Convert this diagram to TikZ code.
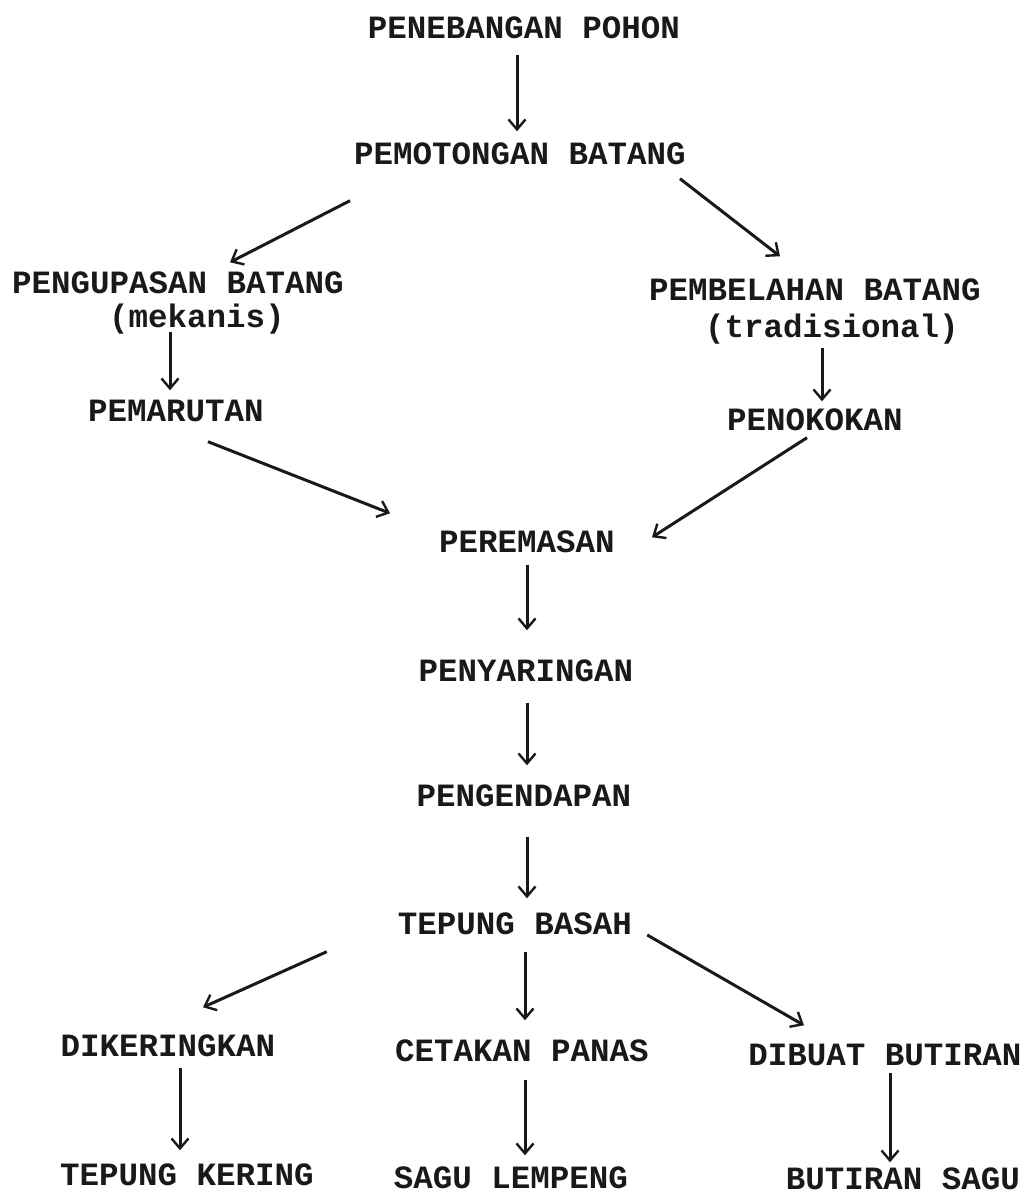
\documentclass[tikz,border=0pt]{standalone}
\usepackage{fontspec}
\usetikzlibrary{arrows.meta}
\newfontfamily\typewriter{Liberation Mono}
\definecolor{inkdark}{RGB}{25,25,25}

\begin{document}
\begin{tikzpicture}[x=1pt,y=1pt]
    % Style definitions
    \tikzset{
      stage/.style={inner sep=0pt, text height=19pt, text depth=0pt,
        font=\typewriter\bfseries\fontsize{32.5}{36}\selectfont, text=inkdark},
      arr/.style={draw=inkdark, line width=3pt,
        -{Straight Barb[length=10pt,width=17pt,line width=2.4pt]}},
    }
    % page frame (keeps the margins of the scan)
    \path[fill=white] (0,0) rectangle (1027,1199);

    % ------------------------------------------------------------------
    % Stages, from the felled tree down to the three products
    % ------------------------------------------------------------------
    \node[stage] (tebang)    at (524,1170) {PENEBANGAN POHON};
    \node[stage] (potong)    at (520,1044) {PEMOTONGAN BATANG};

    % left branch: mechanical
    \node[stage] (kupas)     at (178,915)  {PENGUPASAN BATANG};
    \node[stage] (kupasket)  at (197,881)  {(mekanis)};
    \node[stage] (marut)     at (176,787)  {PEMARUTAN};

    % right branch: traditional
    \node[stage] (belah)     at (815,908)  {PEMBELAHAN BATANG};
    \node[stage] (belahket)  at (832,871)  {(tradisional)};
    \node[stage] (kokok)     at (815,778)  {PENOKOKAN};

    % common trunk
    \node[stage] (remas)     at (527,656)  {PEREMASAN};
    \node[stage] (saring)    at (526,527)  {PENYARINGAN};
    \node[stage] (endap)     at (524,402)  {PENGENDAPAN};
    \node[stage] (basah)     at (515,274)  {TEPUNG BASAH};

    % three outlets
    \node[stage] (kering)    at (168,152)  {DIKERINGKAN};
    \node[stage] (cetak)     at (522,147)  {CETAKAN PANAS};
    \node[stage] (butir)     at (885,143)  {DIBUAT BUTIRAN};
    \node[stage] (tpkering)  at (187,23)   {TEPUNG KERING};
    \node[stage] (lempeng)   at (511,20)   {SAGU LEMPENG};
    \node[stage] (butirsagu) at (903,19)   {BUTIRAN SAGU};

    % ------------------------------------------------------------------
    % Arrows (hand drawn in the original, so each end is nudged)
    % ------------------------------------------------------------------
    \draw[arr] ([shift={(-7,-16)}]tebang.south) -- ([shift={(-3,14)}]potong.north);
    \draw[arr] ([shift={(-4,-36)}]potong.south west) -- ([shift={(52,12)}]kupas.north);
    \draw[arr] ([shift={(-6,-14)}]potong.south east) -- ([shift={(-35,25)}]belah.north);

    \draw[arr] ([shift={(-27,-4)}]kupasket.south) -- ([shift={(-6,12)}]marut.north);
    \draw[arr] ([shift={(-10,-10)}]belahket.south) -- ([shift={(7,10)}]kokok.north);

    \draw[arr] ([shift={(32,-20)}]marut.south) -- ([shift={(-49,20)}]remas.north west);
    \draw[arr] ([shift={(-8,-7)}]kokok.south) -- ([shift={(37,-4)}]remas.north east);

    \draw[arr] ([shift={(0,-12)}]remas.south) -- ([shift={(1,32)}]saring.north);
    \draw[arr] ([shift={(1,-21)}]saring.south) -- ([shift={(3,22)}]endap.north);
    \draw[arr] ([shift={(3,-30)}]endap.south) -- ([shift={(12,17)}]basah.north);

    \draw[arr] ([shift={(-71,-17)}]basah.south west) -- ([shift={(35,30)}]kering.north);
    \draw[arr] ([shift={(10,-17)}]basah.south) -- ([shift={(3,22)}]cetak.north);
    \draw[arr] ([shift={(15,-10)}]basah.east) -- ([shift={(-81,21)}]butir.north);

    \draw[arr] ([shift={(12,-11)}]kering.south) -- ([shift={(-7,16)}]tpkering.north);
    \draw[arr] ([shift={(3,-18)}]cetak.south) -- ([shift={(14,14)}]lempeng.north);
    \draw[arr] ([shift={(5,-7)}]butir.south) -- ([shift={(-13,8)}]butirsagu.north);
\end{tikzpicture}
\end{document}
